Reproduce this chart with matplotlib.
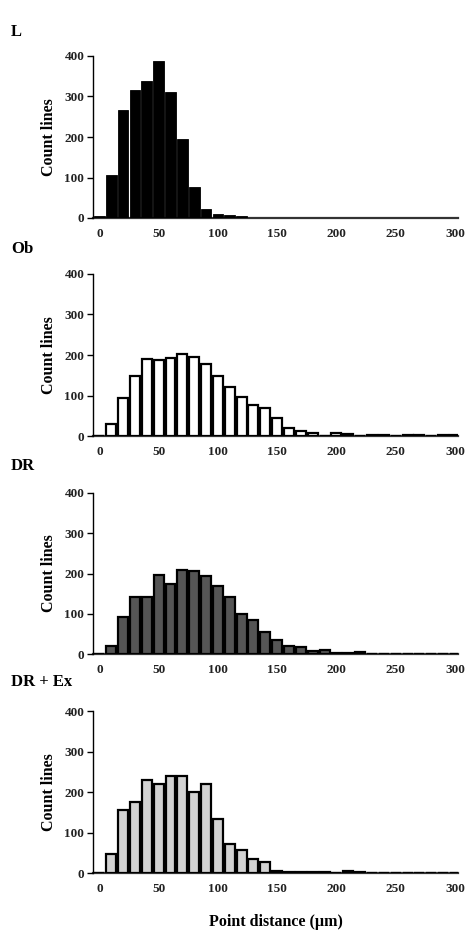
import matplotlib
matplotlib.use("Agg")
import matplotlib.pyplot as plt
import numpy as np

plt.rcParams['font.family'] = ['Liberation Serif', 'DejaVu Serif']
plt.rcParams['font.weight'] = 'bold'

# bin centres (µm)
bins = np.arange(0, 310, 10)

# counts per bin
L_counts = [6, 105, 267, 316, 338, 387, 312, 195, 77, 23, 11, 8, 5,
            0, 0, 0, 0, 0, 0, 0, 0, 0, 0, 0, 0, 0, 0, 0, 0, 0, 0]
Ob_counts = [0, 30, 93, 148, 189, 188, 193, 203, 196, 177, 148, 121, 97,
             76, 70, 44, 21, 12, 8, 0, 8, 5, 0, 2, 2, 0, 2, 2, 0, 2, 2]
DR_counts = [0, 21, 93, 143, 143, 196, 173, 209, 205, 193, 170, 143, 100,
             86, 54, 35, 21, 18, 8, 10, 2, 2, 6, 0, 0, 0, 0, 0, 0, 0, 0]
DREx_counts = [0, 46, 156, 176, 231, 219, 241, 239, 200, 220, 134, 71, 58,
               35, 26, 5, 3, 2, 2, 2, 0, 4, 2, 0, 0, 0, 0, 0, 0, 0, 0]

panel_names = ["L", "Ob", "DR", "DR + Ex"]
panel_data = [L_counts, Ob_counts, DR_counts, DREx_counts]
panel_fill = ["#000000", "#ffffff", "#555555", "#d2d2d2"]
yticks = [0, 100, 200, 300, 400]
xticks = [0, 50, 100, 150, 200, 250, 300]

W, H = 467, 931
fig = plt.figure(figsize=(W / 100, H / 100), dpi=100)
fig.patch.set_facecolor("white")

# (top px, bottom px, panel-label centre px)
layout = [(56, 218, 32), (273.7, 436.3, 249), (492.7, 654.3, 466), (711.3, 873, 682)]
ax_left, ax_right = 93.3, 458

for (top, bot, lab_y), name, counts, fill in zip(layout, panel_names, panel_data, panel_fill):
    ax = fig.add_axes([ax_left / W, 1 - bot / H, (ax_right - ax_left) / W, (bot - top) / H])
    lw = 0.6 if fill == "#000000" else 1.6
    ax.bar(bins, counts, width=8.4 if lw > 1 else 9.0, color=fill,
           edgecolor="black", linewidth=lw, zorder=2)
    ax.set_xlim(-5.1, 302.5)
    ax.set_ylim(0, 400)
    ax.set_yticks(yticks)
    ax.set_xticks(xticks)
    ax.tick_params(axis='y', length=4.5, width=1, pad=2, labelsize=9.5)
    ax.tick_params(axis='x', length=0, pad=7, labelsize=9.5)
    for lab in ax.get_xticklabels() + ax.get_yticklabels():
        lab.set_fontweight('bold')
        lab.set_color('#222222')
    ax.spines['top'].set_visible(False)
    ax.spines['right'].set_visible(False)
    ax.spines['left'].set_linewidth(1.0)
    ax.spines['bottom'].set_linewidth(1.6)
    ax.spines['bottom'].set_color('#333333')
    ax.spines['bottom'].set_zorder(1)
    ax.set_ylabel("Count lines", fontsize=11.5, fontweight='bold', labelpad=5)
    fig.text(11 / W, 1 - lab_y / H, name, fontsize=12, fontweight='bold',
             ha='left', va='center')
    if name == "DR + Ex":
        ax.set_xlabel("Point distance (µm)", fontsize=11.5, fontweight='bold', labelpad=14)

fig.savefig("out.png", dpi=100, facecolor="white")
